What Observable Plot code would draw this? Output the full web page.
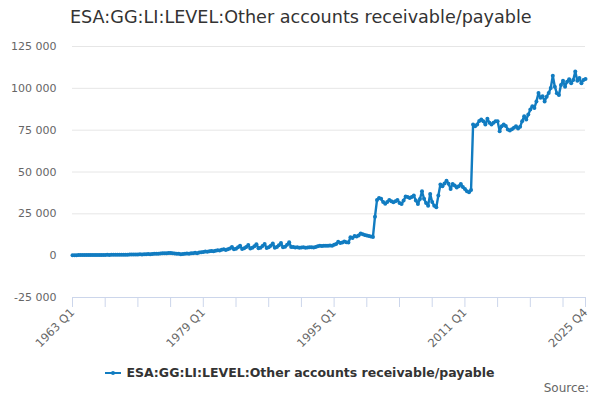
<!DOCTYPE html>
<html>
<head>
<meta charset="utf-8">
<script src="https://cdn.jsdelivr.net/npm/d3@7"></script>
<script src="https://cdn.jsdelivr.net/npm/@observablehq/plot@0.6"></script>
<style>
  html, body { margin: 0; padding: 0; background: #fff; }
  body { width: 600px; height: 400px; position: relative; overflow: hidden; font-family: "DejaVu Sans", sans-serif; }
  #title { position: absolute; left: 70px; top: 7px; font-size: 17.6px; color: #333; white-space: nowrap; }
  #chart { position: absolute; left: 0; top: 36px; }
  #legend { position: absolute; left: 0; width: 600px; top: 365px; text-align: center; font-size: 12.5px; font-weight: bold; color: #333; white-space: nowrap; }
  #legend .sym { display: inline-block; position: relative; width: 16px; height: 10px; margin-right: 5px; vertical-align: -1px; }
  #source { position: absolute; right: 11px; top: 381px; font-size: 12px; color: #666; }
</style>
</head>
<body>
<div id="title"></div>
<div id="chart"></div>
<div id="legend"></div>
<div id="source">Source:</div>
<script>
const title = "ESA:GG:LI:LEVEL:Other accounts receivable/payable";
const seriesName = "ESA:GG:LI:LEVEL:Other accounts receivable/payable";
const startYear = 1963;
const endYear = 2025;

const values1960s = [
  300, 320, 310, 330,
  340, 350, 330, 360,
  380, 390, 370, 400,
  420, 430, 410, 450,
  470, 480, 460, 500,
  520, 540, 510, 560,
  580, 600, 570, 620
];
const values1970s = [
  650, 680, 640, 700,
  750, 800, 760, 850,
  900, 950, 900, 1000,
  1100, 1200, 1150, 1300,
  1400, 1500, 1450, 1550,
  1600, 1500, 1300, 1200,
  1100, 900, 1000, 1200,
  1300, 1100, 1400, 1500,
  1700, 1500, 1900, 2100,
  2200, 2500, 2300, 2700
];
const values1980s = [
  2800, 2600, 3000, 3300,
  3100, 3500, 3900, 3400,
  3800, 4300, 5200, 3900,
  4200, 5000, 6000, 4000,
  4500, 5200, 6300, 4300,
  4800, 5600, 6800, 4500,
  4700, 5800, 7000, 4600,
  5000, 6000, 7200, 4800,
  5200, 6200, 7500, 5000,
  5400, 6500, 8000, 5200
];
const values1990s = [
  5200, 4900, 5000, 4800,
  4900, 5000, 4800, 4900,
  5000, 5100, 4900, 5200,
  5600, 6000, 5800, 5900,
  6000, 5900, 6100, 6000,
  6500, 7000, 8300, 7500,
  7800, 8500, 8000, 7800,
  11000, 10500, 11800, 11500,
  12000, 13300, 12800, 12300,
  12000, 11800, 11500, 11200
];
const values2000s = [
  23300, 33300, 34500, 34000,
  32000, 31000, 32000, 33300,
  32500, 31900, 32500, 33300,
  31500, 30900, 33000, 35300,
  35000, 34500, 35000, 35900,
  33000, 30900, 33900, 38500,
  34000, 31500, 29900, 36900,
  32000, 29900, 28900, 35900,
  42500, 41500, 43200, 44800,
  43000, 39900, 42900, 42000
];
const values2010s = [
  40800, 41500, 42900, 41000,
  39900, 38500, 37900, 39300,
  78400, 77400, 78400, 80500,
  81400, 80400, 78400, 81800,
  79500, 78400, 79400, 80400,
  80400, 74400, 77400, 78400,
  77500, 75400, 74800, 75500,
  76400, 77400, 76000, 77000,
  80400, 83300, 81400, 84300,
  87300, 89300, 88300, 92200
];
const values2020s = [
  97200, 94300, 95200, 92200,
  95000, 97200, 100200, 107500,
  101000, 97000, 96000, 102000,
  104500, 101000, 104000, 105500,
  103000, 105000, 110000, 104500,
  106200, 103000, 105000, 105600
];

const tickLabels = ["1963 Q1", "1979 Q1", "1995 Q1", "2011 Q1", "2025 Q4"];
const yTicks = [-25000, 0, 25000, 50000, 75000, 100000, 125000];

const color = "#117cc1";

const allValues = [].concat(values1960s, values1970s, values1980s, values1990s, values2000s, values2010s, values2020s);
const periods = [];
for (let y = startYear; y <= endYear; y++) for (let q = 1; q <= 4; q++) periods.push(`${y} Q${q}`);
const data = allValues.map((v, i) => ({i, period: periods[i], value: v}));

const n = data.length;
const tickIdx = [];
for (let k = 0; k < n - 1; k += 16) tickIdx.push(k);
tickIdx.push(n - 1);

const fmt = v => d3.format(",")(v).replace(/,/g, " ").replace("−", "-");

document.getElementById("title").textContent = title;
document.getElementById("legend").innerHTML =
  `<span class="sym"><svg width="16" height="10"><line x1="0" x2="16" y1="5" y2="5" stroke="${color}" stroke-width="2"/><circle cx="8" cy="5" r="2" fill="${color}"/></svg></span>` + seriesName;

const chart = Plot.plot({
  width: 600,
  height: 330,
  marginLeft: 72,
  marginRight: 15,
  marginTop: 10,
  marginBottom: 69,
  style: {fontFamily: "DejaVu Sans, sans-serif", fontSize: "11px", color: "#666", background: "#fff"},
  x: {domain: [0, n - 1]},
  y: {domain: [-25000, 125000]},
  marks: [
    Plot.gridY(yTicks.filter(t => t > -25000), {stroke: "#e6e6e6", strokeOpacity: 1, strokeWidth: 1}),
    Plot.ruleY([-25000], {stroke: "#ccd6eb", strokeWidth: 1}),
    Plot.axisY(yTicks, {tickSize: 0, tickPadding: 16, tickFormat: fmt, fill: "#666", fontSize: 11, label: null}),
    Plot.axisX(tickIdx, {tickSize: 10, stroke: "#ccd6eb", tickPadding: 3, tickRotate: -45, fill: "#666", fontSize: 11.5, label: null,
      tickFormat: i => tickLabels.includes(data[i].period) ? data[i].period : ""}),
    Plot.line(data, {x: "i", y: "value", stroke: color, strokeWidth: 2.4}),
    Plot.dot(data, {x: "i", y: "value", r: 2, fill: color})
  ]
});
document.getElementById("chart").appendChild(chart);
</script>
</body>
</html>
